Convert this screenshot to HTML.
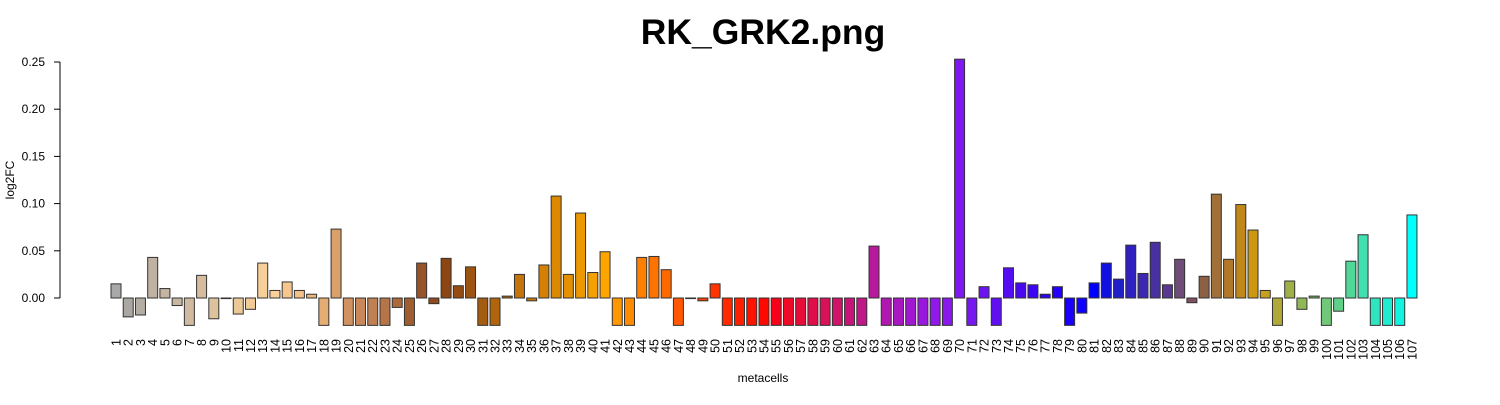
<!DOCTYPE html>
<html><head><meta charset="utf-8"><style>
body{margin:0;background:#fff;font-family:"Liberation Sans",sans-serif}
</style></head><body>
<svg id="c" width="1500" height="400" xmlns="http://www.w3.org/2000/svg" font-family="Liberation Sans, sans-serif">
<text x="763" y="44" text-anchor="middle" font-size="35.5" font-weight="bold">RK_GRK2.png</text>
<text x="763" y="382" text-anchor="middle" font-size="12">metacells</text>
<text transform="translate(14,180) rotate(-90)" text-anchor="middle" font-size="12">log2FC</text>
<g id="yaxis"></g><g id="bars"></g><g id="xl"></g>
</svg>
<script>
const values=[0.015,-0.020,-0.018,0.043,0.010,-0.008,-0.029,0.024,-0.022,0.0,-0.017,-0.012,0.037,0.008,0.017,0.008,0.004,-0.029,0.073,-0.029,-0.029,-0.029,-0.029,-0.010,-0.029,0.037,-0.006,0.042,0.013,0.033,-0.029,-0.029,0.002,0.025,-0.003,0.035,0.108,0.025,0.090,0.027,0.049,-0.029,-0.029,0.043,0.044,0.030,-0.029,0.0,-0.003,0.015,-0.029,-0.029,-0.029,-0.029,-0.029,-0.029,-0.029,-0.029,-0.029,-0.029,-0.029,-0.029,0.055,-0.029,-0.029,-0.029,-0.029,-0.029,-0.029,0.253,-0.029,0.012,-0.029,0.032,0.016,0.014,0.004,0.012,-0.029,-0.016,0.016,0.037,0.020,0.056,0.026,0.059,0.014,0.041,-0.005,0.023,0.110,0.041,0.099,0.072,0.008,-0.029,0.018,-0.012,0.002,-0.029,-0.014,0.039,0.067,-0.029,-0.029,-0.029,0.088];
const categories=values.map((v,i)=>String(i+1));
const colors=["#a9a9a9","#aaa6a2","#b5ada3","#bfb2a2","#c4b4a0","#c9b6a0","#d0bba0","#d6bc9c","#dcc39e","#e2c49a","#ecc898","#f2ca98","#f8cf98","#fbd09a","#f6c68c","#f2c088","#eeb97e","#e4ad74","#d9a06a","#d09260","#c8885a","#c08055","#b57548","#ac6a3c","#a05e30","#985428","#904a1e","#8c4614","#944c10","#9c5410","#a45c10","#b0640c","#b86c08","#c47408","#cc7c04","#d48004","#dc8800","#e49000","#ec9800","#f4a000","#ffa500","#ff9800","#ff8c00","#ff8000","#ff7400","#ff6800","#ff5800","#ff4c00","#ff4000","#ff3400","#ff2a00","#ff2000","#ff1400","#ff0800","#f80018","#f00a28","#e80c38","#e00e48","#d81258","#d01468","#c81478","#c01888","#b8189c","#b018b0","#a818c0","#a018d0","#9818dc","#9018e8","#8818ec","#7f18f0","#7818f0","#6c14f0","#6010f0","#540cf0","#4808f0","#3c04f4","#3000f8","#2400fa","#1800fc","#0c00ff","#0000ff","#1010e0","#2020c8","#3020c0","#3c28b0","#4830a0","#583890","#704c78","#805060","#8c6044","#a07038","#b07828","#c08818","#cc9810","#c8a020","#b0a838","#a0b048","#90b858","#80c068","#70c878","#60d088","#50d898","#40e0b0","#30e4c0","#20ecd0","#10f4e0","#00ffff"];
const yTicks=[0,0.05,0.10,0.15,0.20,0.25];
const yTickLabels=["0.00","0.05","0.10","0.15","0.20","0.25"];
const NS="http://www.w3.org/2000/svg";
const y=v=>298-v*944;
const x=i=>116+i*12.226;
function mk(t,a,p){const e=document.createElementNS(NS,t);for(const k in a)e.setAttribute(k,a[k]);p.appendChild(e);return e;}
const ya=document.getElementById('yaxis');
const ax=mk('line',{x1:60,x2:60,y1:y(0),y2:y(0.25),stroke:'#000'},ya);


yTicks.forEach((t,i)=>{
 const l=mk('line',{x1:54,x2:60,y1:y(t),y2:y(t),stroke:'#000'},ya);
 
 
 const tx=mk('text',{x:45,y:y(t)+4,'text-anchor':'end','font-size':12},ya);
 tx.textContent=yTickLabels[i];
 
 
});
const bg=document.getElementById('bars'),xl=document.getElementById('xl');
values.forEach((v,i)=>{
 const top=Math.min(y(v),y(0)),h=Math.max(Math.abs(y(v)-y(0)),0.6);
 const r=mk('rect',{x:x(i)-5,y:top,width:10,height:h,fill:colors[i],stroke:'#333','stroke-width':1},bg);
 
 
 const t=mk('text',{transform:`translate(${x(i)+4.5},339) rotate(-90)`,'text-anchor':'end','font-size':12.5},xl);
 t.textContent=categories[i];
 
 
});
</script>
</body></html>
